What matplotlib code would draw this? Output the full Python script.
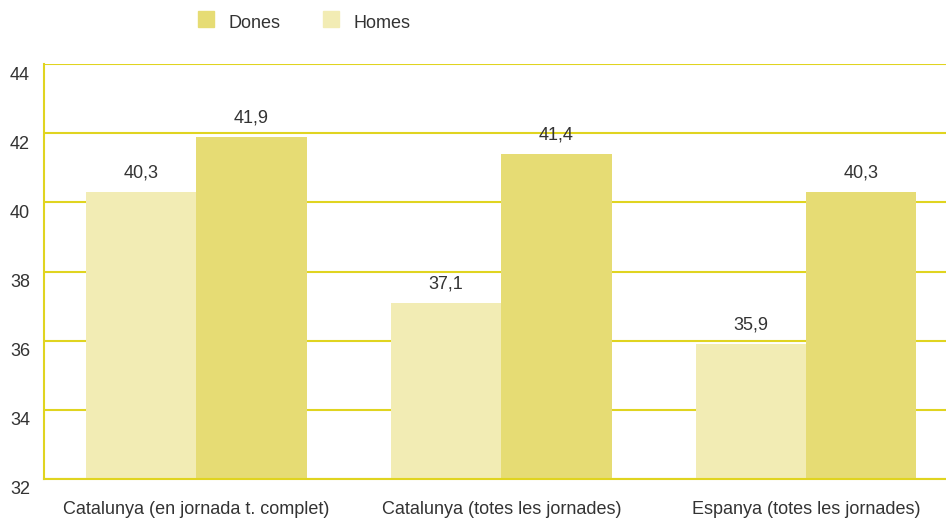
import matplotlib
matplotlib.use("Agg")
import matplotlib.pyplot as plt
import numpy as np
from matplotlib.transforms import ScaledTranslation

categories = ["Catalunya (en jornada t. complet)",
              "Catalunya (totes les jornades)",
              "Espanya (totes les jornades)"]
homes = [40.3, 37.1, 35.9]
dones = [41.9, 41.4, 40.3]
yticks = [32, 34, 36, 38, 40, 42, 44]

c_homes = "#f2ecb4"
c_dones = "#e6dc74"
c_line = "#e0d420"
c_text = "#333333"

plt.rcParams["font.family"] = ["Liberation Sans", "DejaVu Sans"]

fig = plt.figure(figsize=(9.46, 5.18), dpi=100)
W, H = 946, 518
# axis runs slightly past the right edge of the figure
ax = fig.add_axes([44 / W, 39 / H, (958.5 - 44) / W, 415 / H])

x = np.arange(len(categories))
w = 0.362
ax.bar(x - w / 2, homes, w, color=c_homes, zorder=2)
ax.bar(x + w / 2, dones, w, color=c_dones, zorder=2)

for xi, v in zip(x - w / 2, homes):
    ax.text(xi, v + 0.3, f"{v:.1f}".replace(".", ","), ha="center", va="bottom",
            fontsize=13, color=c_text)
for xi, v in zip(x + w / 2, dones):
    ax.text(xi, v + 0.3, f"{v:.1f}".replace(".", ","), ha="center", va="bottom",
            fontsize=13, color=c_text)

ax.set_ylim(32, 44)
ax.set_xlim(-0.5, 2.5)
ax.set_yticks(yticks)
ax.set_yticklabels([str(t) for t in yticks])
ax.set_xticks(x)
ax.set_xticklabels(categories)
ax.tick_params(axis="both", length=0, labelsize=13, labelcolor=c_text)
ax.tick_params(axis="y", pad=10)
ax.tick_params(axis="x", pad=16)

off = ScaledTranslation(0, -9 / 100, fig.dpi_scale_trans)
for lab in ax.get_yticklabels():
    lab.set_transform(lab.get_transform() + off)

ax.grid(axis="y", color=c_line, lw=1.5, zorder=1)
ax.set_axisbelow(True)
for s in ["top", "right"]:
    ax.spines[s].set_visible(False)
ax.spines["left"].set_color(c_line)
ax.spines["left"].set_linewidth(1.5)
ax.spines["bottom"].set_color(c_line)
ax.spines["bottom"].set_linewidth(1.5)
ax.spines["bottom"].set_zorder(3)

# legend drawn by hand at the top
for px, col, lab in [(198, c_dones, "Dones"), (323, c_homes, "Homes")]:
    fig.patches.append(plt.Rectangle((px / W, 1 - 27 / H), 16 / W, 16 / H,
                                     color=col, transform=fig.transFigure))
    fig.text((px + 30) / W, 1 - 23 / H, lab, fontsize=13, color=c_text,
             va="center", ha="left")

fig.savefig("out.png", dpi=100)
